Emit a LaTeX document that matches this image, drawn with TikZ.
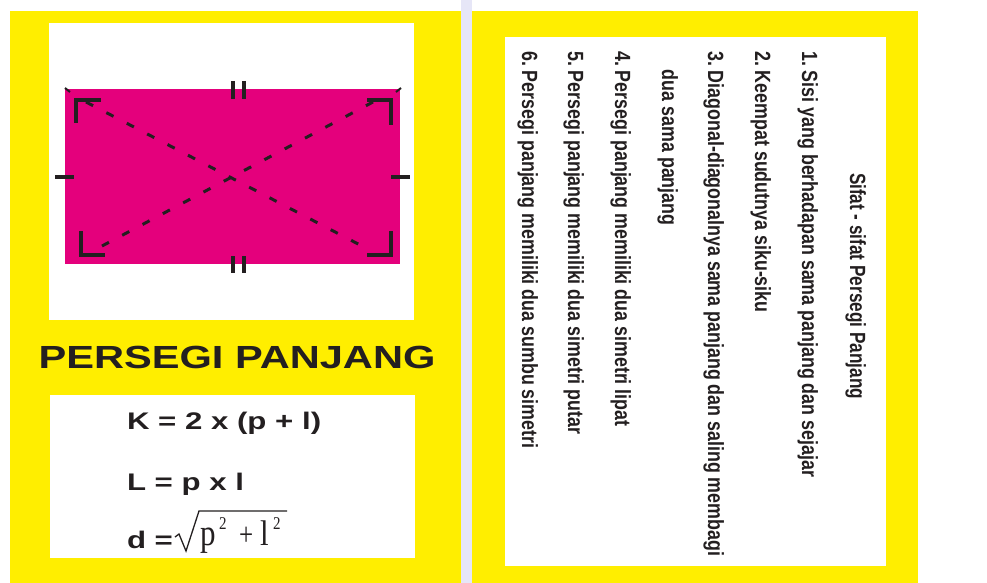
\documentclass[tikz,border=0pt]{standalone}
\usepackage{fontspec}
\setmainfont{Liberation Sans}
\newfontfamily\serifA{Liberation Serif}
\definecolor{cardyellow}{HTML}{FFEE00}
\definecolor{rectmag}{HTML}{E4007C}
\definecolor{inkk}{HTML}{231F20}
\definecolor{gapbg}{HTML}{E6E6F7}
\tikzset{
  card/.style={fill=cardyellow, draw=none},
  panel/.style={fill=white, draw=none},
  tickline/.style={draw=inkk, line width=3.6pt},
  cornermark/.style={draw=inkk, line width=3.1pt},
  diag/.style={draw=inkk, line width=3pt, dash pattern=on 8pt off 15pt},
  plain/.style={inner sep=0pt, outer sep=0pt, text=inkk},
  vline/.style={plain, rotate=-90, anchor=base west, font=\fontsize{22}{22}\selectfont\bfseries},
  formula/.style={plain, anchor=base west, font=\fontsize{24}{24}\selectfont\bfseries},
  serifbig/.style={plain, anchor=base west, font=\serifA\fontsize{31}{31}\selectfont},
  serifmid/.style={plain, anchor=base west, font=\serifA\fontsize{25}{25}\selectfont},
  serifsup/.style={plain, anchor=base west, font=\serifA\fontsize{15}{15}\selectfont}
}
\newcommand{\vsq}[1]{\scalebox{0.81}[1]{#1}}
\begin{document}
\begin{tikzpicture}[x=1pt,y=-1pt]
\useasboundingbox (0,0) rectangle (987,583);
\fill[white] (0,0) rectangle (987,583);
\fill[gapbg] (461,0) rectangle (472,583);
% ---------- left card ----------
\path[card] (10,11) rectangle (461,583);
\path[panel] (49,23) rectangle (414,320);
\fill[rectmag] (65,89) rectangle (400,264);
% equal-side ticks
\draw[tickline] (233,81) -- (233,99);
\draw[tickline] (244,81) -- (244,99);
\draw[tickline] (233,256) -- (233,273);
\draw[tickline] (244,256) -- (244,273);
\draw[tickline] (55,177) -- (74,177);
\draw[tickline] (391,177) -- (410,177);
% corner marks
\draw[cornermark] (76,123) -- (76,100) -- (101,100);
\draw[cornermark] (367,100) -- (391,100) -- (391,125);
\draw[cornermark] (81,231) -- (81,255) -- (105,255);
\draw[cornermark] (367,255) -- (391,255) -- (391,231);
\draw[draw=inkk, line width=2pt] (65,88) -- (70,92);
\draw[draw=inkk, line width=2pt] (396,92) -- (401,88);
% diagonals
\coordinate (dA) at (86,102);
\coordinate (dC) at (362,246);
\coordinate (dB) at (373,102);
\coordinate (dD) at (102,246);
\draw[diag] (dA) -- (dC);
\draw[diag] (dB) -- (dD);
% title
\node[plain, anchor=base, font=\fontsize{32}{32}\selectfont\bfseries] (title) at (237,368) {\scalebox{1.3}[1]{PERSEGI PANJANG}};
% formula panel
\path[panel] (50,395) rectangle (415,558);
\node[formula] (fK) at (127,429) {\scalebox{1.3}[1]{K = 2 x (p + l)}};
\node[formula] (fL) at (127,490) {\scalebox{1.3}[1]{L = p x l}};
\node[formula] (fd) at (127,548) {\scalebox{1.3}[1]{d =}};
\draw[draw=inkk, line width=1.3pt, line join=miter] (175,537) -- (179,534) -- (186,551) -- (199,511) -- (287,511);
\node[serifbig] (sp) at (200,545) {\scalebox{1}[1.2]{p}};
\node[serifsup] (sp2) at (219,529) {\scalebox{1}[1.2]{2}};
\node[serifmid] (splus) at (239,545) {\scalebox{1}[1.3]{+}};
\node[serifbig] (sl) at (260,545) {\scalebox{1}[1.15]{l}};
\node[serifsup] (sl2) at (273,529) {\scalebox{1}[1.2]{2}};
% ---------- right card ----------
\path[card] (472,11) rectangle (918,583);
\path[panel] (505,37) rectangle (886,566);
\node[vline] (rt) at (850,173) {\scalebox{0.78}[1]{Sifat - sifat Persegi Panjang}};
\node[vline] (n1) at (802,52) {\vsq{1.}};
\node[vline] (t1) at (802,71) {\vsq{Sisi yang berhadapan sama panjang dan sejajar}};
\node[vline] (n2) at (755,52) {\vsq{2.}};
\node[vline] (t2) at (755,71) {\vsq{Keempat sudutnya siku-siku}};
\node[vline] (n3) at (708,52) {\vsq{3.}};
\node[vline] (t3) at (708,71) {\vsq{Diagonal-diagonalnya sama panjang dan saling membagi}};
\node[vline] (t3b) at (662,70) {\vsq{dua sama panjang}};
\node[vline] (n4) at (615,52) {\vsq{4.}};
\node[vline] (t4) at (615,71) {\vsq{Persegi panjang memiliki dua simetri lipat}};
\node[vline] (n5) at (568,52) {\vsq{5.}};
\node[vline] (t5) at (568,71) {\vsq{Persegi panjang memiliki dua simetri putar}};
\node[vline] (n6) at (522,52) {\vsq{6.}};
\node[vline] (t6) at (522,71) {\vsq{Persegi panjang memiliki dua sumbu simetri}};
\end{tikzpicture}
\end{document}
